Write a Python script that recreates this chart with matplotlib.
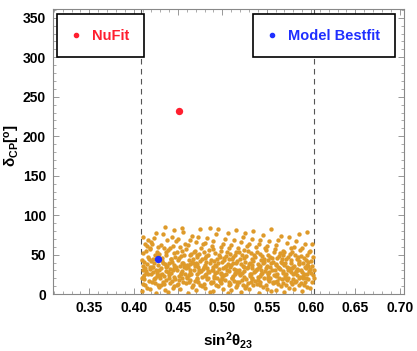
import numpy as np
import matplotlib
matplotlib.use("Agg")
import matplotlib.pyplot as plt
from matplotlib.ticker import MultipleLocator
from matplotlib.lines import Line2D

plt.rcParams['font.family'] = ['Liberation Sans', 'DejaVu Sans']
plt.rcParams['font.weight'] = 'bold'
plt.rcParams['mathtext.fontset'] = 'custom'
plt.rcParams['mathtext.rm'] = 'Liberation Sans:bold'
plt.rcParams['mathtext.it'] = 'Liberation Sans:bold'
plt.rcParams['mathtext.bf'] = 'Liberation Sans:bold'

# allowed sin^2(theta23) range (dashed lines)
range_lo = 0.408
range_hi = 0.603

# best-fit points
nufit_x, nufit_y = 0.451, 232
model_x, model_y = 0.428, 45

# scanned points
cloud_x = [
    0.409, 0.415, 0.411, 0.417, 0.413, 0.410, 0.416, 0.412, 0.414, 0.409, 0.418, 0.411, 0.415, 0.413,
    0.410, 0.417, 0.412, 0.416, 0.409, 0.414, 0.411, 0.418, 0.413, 0.415, 0.410, 0.416, 0.412, 0.414,
    0.419, 0.425, 0.421, 0.427, 0.423, 0.420, 0.426, 0.422, 0.424, 0.419, 0.428, 0.421, 0.425, 0.423,
    0.420, 0.427, 0.422, 0.426, 0.419, 0.424, 0.421, 0.428, 0.423, 0.425, 0.420, 0.426, 0.422, 0.424,
    0.429, 0.435, 0.431, 0.437, 0.433, 0.430, 0.436, 0.432, 0.434, 0.429, 0.438, 0.431, 0.435, 0.433,
    0.430, 0.437, 0.432, 0.436, 0.429, 0.434, 0.431, 0.438, 0.433, 0.435, 0.430, 0.436, 0.432, 0.434,
    0.439, 0.445, 0.441, 0.447, 0.443, 0.440, 0.446, 0.442, 0.444, 0.439, 0.448, 0.441, 0.445, 0.443,
    0.440, 0.447, 0.442, 0.446, 0.439, 0.444, 0.441, 0.448, 0.443, 0.445, 0.440, 0.446, 0.442, 0.444,
    0.452, 0.449, 0.456, 0.450, 0.454, 0.458, 0.451, 0.455, 0.453, 0.457, 0.449, 0.452, 0.456, 0.450,
    0.454, 0.451, 0.457, 0.453, 0.455, 0.449, 0.458, 0.452, 0.450, 0.456, 0.454, 0.451, 0.453, 0.457,
    0.461, 0.466, 0.459, 0.463, 0.467, 0.460, 0.464, 0.462, 0.468, 0.465, 0.459, 0.463, 0.461, 0.466,
    0.460, 0.467, 0.464, 0.462, 0.465, 0.459, 0.468, 0.461, 0.463, 0.466, 0.460, 0.464, 0.462, 0.467,
    0.470, 0.475, 0.469, 0.473, 0.477, 0.471, 0.474, 0.472, 0.478, 0.476, 0.469, 0.473, 0.470, 0.475,
    0.471, 0.477, 0.474, 0.472, 0.476, 0.469, 0.478, 0.470, 0.473, 0.475, 0.471, 0.474, 0.472, 0.477,
    0.481, 0.486, 0.479, 0.483, 0.487, 0.480, 0.484, 0.482, 0.488, 0.485, 0.479, 0.483, 0.481, 0.486,
    0.480, 0.487, 0.484, 0.482, 0.485, 0.479, 0.488, 0.481, 0.483, 0.486, 0.480, 0.484, 0.482, 0.487,
    0.490, 0.495, 0.489, 0.493, 0.497, 0.491, 0.494, 0.492, 0.498, 0.496, 0.489, 0.493, 0.490, 0.495,
    0.491, 0.497, 0.494, 0.492, 0.496, 0.489, 0.498, 0.490, 0.493, 0.495, 0.491, 0.494, 0.492, 0.497,
    0.501, 0.506, 0.499, 0.503, 0.507, 0.500, 0.504, 0.502, 0.508, 0.505, 0.499, 0.503, 0.501, 0.506,
    0.500, 0.507, 0.504, 0.502, 0.505, 0.499, 0.508, 0.501, 0.503, 0.506, 0.500, 0.504, 0.502, 0.507,
    0.510, 0.515, 0.509, 0.513, 0.517, 0.511, 0.514, 0.512, 0.518, 0.516, 0.509, 0.513, 0.510, 0.515,
    0.511, 0.517, 0.514, 0.512, 0.516, 0.509, 0.518, 0.510, 0.513, 0.515, 0.511, 0.514, 0.512, 0.517,
    0.521, 0.526, 0.519, 0.523, 0.527, 0.520, 0.524, 0.522, 0.528, 0.525, 0.519, 0.523, 0.521, 0.526,
    0.520, 0.527, 0.524, 0.522, 0.525, 0.519, 0.528, 0.521, 0.523, 0.526, 0.520, 0.524, 0.522, 0.527,
    0.530, 0.535, 0.529, 0.533, 0.537, 0.531, 0.534, 0.532, 0.538, 0.536, 0.529, 0.533, 0.530, 0.535,
    0.531, 0.537, 0.534, 0.532, 0.536, 0.529, 0.538, 0.530, 0.533, 0.535, 0.531, 0.534, 0.532, 0.537,
    0.541, 0.546, 0.539, 0.543, 0.547, 0.540, 0.544, 0.542, 0.548, 0.545, 0.539, 0.543, 0.541, 0.546,
    0.540, 0.547, 0.544, 0.542, 0.545, 0.539, 0.548, 0.541, 0.543, 0.546, 0.540, 0.544, 0.542, 0.547,
    0.550, 0.555, 0.549, 0.553, 0.557, 0.551, 0.554, 0.552, 0.558, 0.556, 0.549, 0.553, 0.550, 0.555,
    0.551, 0.557, 0.554, 0.552, 0.556, 0.549, 0.558, 0.550, 0.553, 0.555, 0.551, 0.554, 0.552, 0.557,
    0.561, 0.566, 0.559, 0.563, 0.567, 0.560, 0.564, 0.562, 0.568, 0.565, 0.559, 0.563, 0.561, 0.566,
    0.560, 0.567, 0.564, 0.562, 0.565, 0.559, 0.568, 0.561, 0.563, 0.566, 0.560, 0.564, 0.562, 0.567,
    0.570, 0.575, 0.569, 0.573, 0.577, 0.571, 0.574, 0.572, 0.578, 0.576, 0.569, 0.573, 0.570, 0.575,
    0.571, 0.577, 0.574, 0.572, 0.576, 0.569, 0.578, 0.570, 0.573, 0.575, 0.571, 0.574, 0.572, 0.577,
    0.581, 0.586, 0.579, 0.583, 0.587, 0.580, 0.584, 0.582, 0.588, 0.585, 0.579, 0.583, 0.581, 0.586,
    0.580, 0.587, 0.584, 0.582, 0.585, 0.579, 0.588, 0.581, 0.583, 0.586, 0.580, 0.584, 0.582, 0.587,
    0.590, 0.595, 0.589, 0.593, 0.597, 0.591, 0.594, 0.592, 0.598, 0.596, 0.589, 0.593, 0.590, 0.595,
    0.591, 0.597, 0.594, 0.592, 0.596, 0.589, 0.598, 0.590, 0.593, 0.595, 0.591, 0.594, 0.592, 0.597,
    0.599, 0.601, 0.603, 0.600, 0.602, 0.599, 0.601, 0.603, 0.600, 0.602, 0.599, 0.601,
]
cloud_y = [
    4, 8, 13, 17, 11, 22, 26, 24, 29, 21, 35, 31, 38, 33,
    36, 44, 41, 47, 43, 55, 52, 58, 64, 61, 73, 68, 19, 27,
    7, 2, 15, 12, 19, 25, 23, 28, 20, 32, 37, 34, 30, 39,
    42, 48, 45, 53, 57, 50, 63, 60, 71, 78, 66, 27, 35, 14,
    9, 5, 12, 18, 16, 21, 29, 26, 23, 31, 36, 33, 38, 40,
    44, 49, 46, 54, 51, 59, 62, 69, 76, 85, 24, 34, 42, 13,
    3, 10, 14, 19, 17, 24, 22, 27, 30, 28, 35, 32, 37, 41,
    39, 47, 45, 52, 56, 61, 58, 67, 72, 81, 20, 33, 44, 8,
    6, 11, 16, 13, 20, 25, 23, 29, 27, 34, 31, 36, 39, 43,
    40, 46, 50, 48, 55, 53, 64, 60, 70, 79, 84, 18, 26, 37,
    2, 9, 14, 18, 12, 21, 27, 24, 30, 26, 33, 38, 35, 41,
    37, 45, 49, 43, 51, 57, 54, 62, 68, 74, 22, 31, 16, 40,
    5, 12, 17, 15, 22, 20, 28, 25, 32, 29, 36, 34, 39, 42,
    47, 44, 51, 49, 58, 55, 63, 66, 73, 83, 19, 30, 38, 10,
    8, 3, 13, 19, 16, 24, 21, 26, 31, 28, 35, 33, 37, 40,
    46, 43, 50, 48, 56, 53, 61, 65, 71, 84, 23, 29, 41, 14,
    4, 10, 15, 12, 18, 23, 21, 27, 25, 32, 30, 36, 34, 39,
    42, 47, 45, 52, 50, 57, 60, 67, 76, 83, 20, 28, 37, 17,
    7, 2, 14, 18, 11, 22, 26, 24, 29, 31, 27, 35, 33, 38,
    41, 44, 48, 46, 53, 55, 59, 64, 70, 78, 19, 36, 43, 16,
    5, 9, 13, 17, 15, 21, 25, 23, 28, 30, 34, 32, 37, 40,
    45, 42, 49, 47, 54, 51, 58, 62, 69, 81, 20, 27, 39, 12,
    3, 8, 16, 12, 19, 24, 22, 27, 33, 29, 31, 36, 38, 41,
    44, 48, 46, 50, 56, 53, 61, 66, 72, 77, 26, 34, 18, 10,
    6, 11, 14, 19, 17, 23, 20, 26, 31, 28, 35, 33, 38, 42,
    40, 47, 44, 52, 49, 55, 60, 64, 70, 80, 25, 37, 15, 29,
    2, 9, 13, 16, 21, 18, 25, 23, 29, 27, 32, 36, 34, 40,
    38, 45, 43, 51, 48, 54, 58, 63, 69, 75, 22, 31, 12, 41,
    7, 4, 12, 17, 15, 22, 20, 27, 24, 30, 33, 28, 36, 39,
    43, 41, 47, 50, 46, 56, 53, 61, 67, 82, 19, 35, 26, 14,
    5, 10, 15, 13, 19, 24, 21, 26, 29, 32, 30, 35, 38, 41,
    37, 44, 48, 46, 52, 57, 55, 62, 68, 74, 23, 33, 17, 40,
    3, 8, 14, 18, 16, 23, 20, 25, 28, 31, 27, 34, 37, 33,
    40, 43, 47, 45, 51, 49, 58, 54, 65, 72, 21, 30, 12, 39,
    6, 11, 13, 17, 21, 19, 24, 27, 22, 30, 33, 29, 36, 39,
    35, 42, 45, 49, 47, 53, 56, 60, 67, 76, 25, 32, 15, 38,
    4, 9, 14, 16, 19, 23, 21, 26, 29, 25, 31, 34, 28, 37,
    40, 36, 43, 46, 50, 48, 54, 59, 64, 79, 20, 33, 12, 41,
    8, 15, 21, 27, 24, 32, 36, 30, 42, 47, 55, 63,
]

orange = '#DE9A2A'

fig = plt.figure(figsize=(4.17, 3.51), dpi=100)
ax = fig.add_axes([0.127, 0.162, 0.842, 0.812])

ax.scatter(cloud_x, cloud_y, s=10, color=orange, linewidths=0, zorder=2)
ax.axvline(range_lo, color='#555555', lw=0.8, ls=(0, (5, 4)), zorder=1)
ax.axvline(range_hi, color='#555555', lw=0.8, ls=(0, (5, 4)), zorder=1)
ax.scatter([nufit_x], [nufit_y], s=28, color='#FF1F2F', linewidths=0, zorder=3)
ax.scatter([model_x], [model_y], s=28, color='#1F2FFF', linewidths=0, zorder=3)

ax.set_xlim(0.309, 0.705)
ax.set_ylim(0, 361)
ax.xaxis.set_minor_locator(MultipleLocator(0.01))
ax.yaxis.set_major_locator(MultipleLocator(50))
ax.yaxis.set_minor_locator(MultipleLocator(10))
ax.set_xticks(np.arange(0.35, 0.701, 0.05))
ax.set_xticklabels(['0.35', '0.40', '0.45', '0.50', '0.55', '0.60', '0.65', '0.70'])
ax.tick_params(which='both', direction='in', top=True, right=True, color='#888888',
               labelsize=10, pad=5)
ax.tick_params(which='major', length=4, width=0.6)
ax.tick_params(which='minor', length=2, width=0.5)
for sp in ax.spines.values():
    sp.set_color('#888888')
    sp.set_linewidth(0.8)

ax.set_xlabel(r'$\mathbf{sin^{2}\theta_{23}}$', fontsize=11)
ax.set_ylabel(r'$\mathbf{\delta_{CP}[^{o}]}$', fontsize=11)
ax.xaxis.set_label_coords(0.5, -0.125)
ax.yaxis.set_label_coords(-0.088, 0.52)

h_nufit = [Line2D([], [], ls='', marker='o', ms=3, color='#FF1F2F')]
h_model = [Line2D([], [], ls='', marker='o', ms=3, color='#1F2FFF')]
leg1 = ax.legend(h_nufit, ['NuFit'], loc='upper left', bbox_to_anchor=(0.011, 0.982),
                 borderaxespad=0, borderpad=1.0, handlelength=0.6, handletextpad=0.8,
                 fancybox=False, edgecolor='black', framealpha=1, fontsize=10.5)
leg1.get_frame().set_linewidth(1.2)
leg1.get_texts()[0].set_color('#FF1F2F')
ax.add_artist(leg1)
leg2 = ax.legend(h_model, ['Model Bestfit'], loc='upper right', bbox_to_anchor=(0.974, 0.982),
                 borderaxespad=0, borderpad=1.0, handlelength=0.6, handletextpad=0.8,
                 fancybox=False, edgecolor='black', framealpha=1, fontsize=10.5)
leg2.get_frame().set_linewidth(1.2)
leg2.get_texts()[0].set_color('#1F2FFF')

fig.savefig('out.png', dpi=100)
